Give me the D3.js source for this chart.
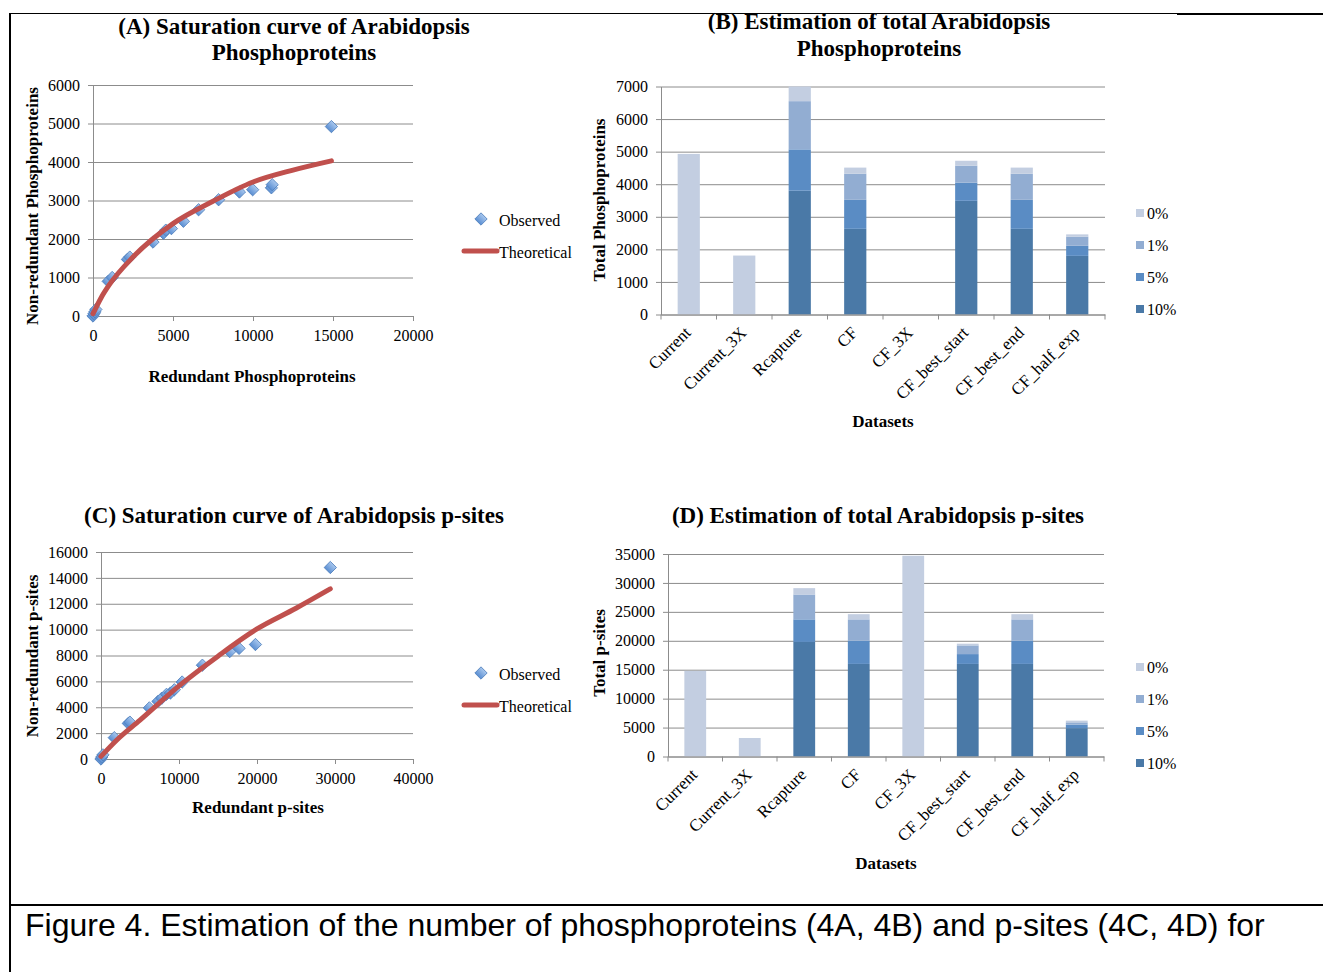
<!DOCTYPE html>
<html>
<head>
<meta charset="utf-8">
<script src="https://cdn.jsdelivr.net/npm/d3@7"></script>
<style>
body { margin: 0; background: #fff; }
svg text { font-family: "Liberation Serif", "Times New Roman", serif; fill: #000; }
.axis .domain, .axis .tick line { stroke: #8c8c8c; }
.axis text { font-size: 16px; }
.grid line { stroke: #8c8c8c; }
.grid .domain { display: none; }
.title { font-size: 23px; font-weight: bold; text-anchor: middle; }
.label { font-size: 17px; font-weight: bold; text-anchor: middle; }
.legend { font-size: 16px; }
.theory { fill: none; stroke: #c0504d; stroke-width: 5; stroke-linecap: round; }
.caption { font-family: "Liberation Sans", Arial, sans-serif; font-size: 30px; }
</style>
</head>
<body>
<div class="container"></div>
<script>
// (A) phosphoproteins saturation
var protObsX = [0, 60, 120, 180, 950, 1200, 2150, 2300, 3750, 4400, 4550, 4900, 5650, 6600, 7850, 9150, 9980, 11150, 11200, 14900];
var protObsY = [0, 60, 110, 170, 900, 1000, 1470, 1530, 1920, 2150, 2230, 2270, 2460, 2760, 3020, 3220, 3280, 3330, 3410, 4920];
var protTheoX = [0, 500, 1000, 2500, 5000, 7500, 10000, 12500, 14900];
var protTheoY = [60, 470, 800, 1530, 2400, 2980, 3480, 3790, 4030];

// (C) p-sites saturation
var siteObsX = [0, 100, 250, 1700, 3500, 3700, 6200, 7300, 7800, 8400, 8900, 9400, 10400, 13000, 16500, 17700, 19800, 29400];
var siteObsY = [0, 150, 320, 1650, 2750, 2850, 3950, 4450, 4700, 5000, 5100, 5350, 5950, 7250, 8300, 8550, 8850, 14800];
var siteTheoX = [0, 2000, 5000, 10000, 15000, 20000, 25000, 29400];
var siteTheoY = [200, 1450, 3000, 5650, 7950, 10050, 11650, 13150];

// (B) and (D) estimates, stacked by threshold
var datasets = ["Current", "Current_3X", "Rcapture", "CF", "CF_3X", "CF_best_start", "CF_best_end", "CF_half_exp"];
var thresholds = ["10%", "5%", "1%", "0%"];

var protSeg10 = [0, 0, 3800, 2630, 0, 3490, 2630, 1800];
var protSeg5  = [0, 0, 1270, 890, 0, 560, 890, 310];
var protSeg1  = [0, 0, 1480, 800, 0, 520, 800, 280];
var protSeg0  = [4930, 1810, 450, 190, 0, 150, 190, 70];

var siteSeg10 = [0, 0, 19800, 16000, 0, 16000, 16000, 4900];
var siteSeg5  = [0, 0, 3900, 4000, 0, 1700, 4000, 600];
var siteSeg1  = [0, 0, 4300, 3700, 0, 1500, 3700, 400];
var siteSeg0  = [14800, 3200, 1100, 900, 34700, 300, 900, 300];

var protTicksY = [0, 1000, 2000, 3000, 4000, 5000, 6000];
var protTicksX = [0, 5000, 10000, 15000, 20000];
var siteTicksY = [0, 2000, 4000, 6000, 8000, 10000, 12000, 14000, 16000];
var siteTicksX = [0, 10000, 20000, 30000, 40000];
var barProtTicks = [0, 1000, 2000, 3000, 4000, 5000, 6000, 7000];
var barSiteTicks = [0, 5000, 10000, 15000, 20000, 25000, 30000, 35000];

var segColors = {"10%": "#4a79a7", "5%": "#5a8cc4", "1%": "#92add2", "0%": "#c3cee1"};

var WIDTH = 1323, HEIGHT = 972;

var svg = d3.select('.container').append('svg')
	.attr('width', WIDTH)
	.attr('height', HEIGHT)
	.style('display', 'block');

svg.append('rect').attr('width', WIDTH).attr('height', HEIGHT).attr('fill', '#fff');

var translate = function(x, y){
	return "translate(" + x + "," + y + ")";
};

var cleanAxis = function(g){
	g.attr('font-family', null).attr('font-size', null);
};

var grad = svg.append('defs').append('linearGradient')
	.attr('id', 'diamondFill')
	.attr('x1', 0).attr('y1', 0).attr('x2', 0).attr('y2', 1);
grad.append('stop').attr('offset', '0%').attr('stop-color', '#a8c7ee');
grad.append('stop').attr('offset', '100%').attr('stop-color', '#5a8ed2');

var diamond = d3.symbol().type(d3.symbolSquare).size(76);

var drawScatter = function(cfg){
	var x = d3.scaleLinear().domain([0, cfg.xMax]).range([cfg.left, cfg.right]);
	var y = d3.scaleLinear().domain([0, cfg.yMax]).range([cfg.bottom, cfg.top]);

	svg.append('g').attr('class', 'grid')
		.attr('transform', translate(cfg.left, 0))
		.call(d3.axisLeft(y).tickValues(cfg.yTicks).tickSize(-(cfg.right - cfg.left)).tickFormat(''));

	svg.append('g').attr('class', 'axis')
		.attr('transform', translate(cfg.left, 0))
		.call(d3.axisLeft(y).tickValues(cfg.yTicks).tickSize(5).tickSizeOuter(0).tickPadding(8).tickFormat(d3.format('d')))
		.call(cleanAxis);

	svg.append('g').attr('class', 'axis')
		.attr('transform', translate(0, cfg.bottom))
		.call(d3.axisBottom(x).tickValues(cfg.xTicks).tickSize(5).tickSizeOuter(0).tickPadding(9).tickFormat(d3.format('d')))
		.call(cleanAxis);

	var obs = cfg.obsX.map(function(d, i){ return [d, cfg.obsY[i]]; });
	svg.append('g').selectAll('path').data(obs)
		.enter().append('path')
		.attr('d', diamond)
		.attr('transform', function(d){ return translate(x(d[0]), y(d[1])) + " rotate(45)"; })
		.attr('fill', 'url(#diamondFill)')
		.attr('stroke', '#4f7fbc')
		.attr('stroke-width', 0.8);

	var theo = cfg.theoX.map(function(d, i){ return [d, cfg.theoY[i]]; });
	var line = d3.line()
		.curve(d3.curveMonotoneX)
		.x(function(d){ return x(d[0]); })
		.y(function(d){ return y(d[1]); });
	svg.append('path').attr('class', 'theory').attr('d', line(theo));

	cfg.title.forEach(function(t, i){
		svg.append('text').attr('class', 'title')
			.attr('x', cfg.titleX).attr('y', cfg.titleY + i * 26).text(t);
	});
	svg.append('text').attr('class', 'label')
		.attr('x', cfg.xLabelX).attr('y', cfg.xLabelY).text(cfg.xLabel);
	svg.append('text').attr('class', 'label')
		.attr('transform', translate(cfg.yLabelX, cfg.yLabelY) + " rotate(-90)")
		.attr('dy', '0.35em').text(cfg.yLabel);

	// legend
	var lg = svg.append('g').attr('transform', translate(cfg.legX, cfg.legY));
	lg.append('path').attr('d', diamond)
		.attr('transform', translate(19, 0) + " rotate(45)")
		.attr('fill', 'url(#diamondFill)').attr('stroke', '#4f7fbc').attr('stroke-width', 0.8);
	lg.append('text').attr('class', 'legend').attr('x', 37).attr('y', 7).text('Observed');
	lg.append('line').attr('class', 'theory')
		.attr('x1', 2).attr('x2', 35).attr('y1', 32).attr('y2', 32);
	lg.append('text').attr('class', 'legend').attr('x', 37).attr('y', 39).text('Theoretical');
};

var drawBars = function(cfg){
	var x = d3.scaleBand().domain(datasets).range([cfg.left, cfg.right]).padding(0);
	var y = d3.scaleLinear().domain([0, cfg.yMax]).range([cfg.bottom, cfg.top]);
	var barW = x.step() / 2.5;

	svg.append('g').attr('class', 'grid')
		.attr('transform', translate(cfg.left, 0))
		.call(d3.axisLeft(y).tickValues(cfg.yTicks).tickSize(-(cfg.right - cfg.left)).tickFormat(''));

	svg.append('g').attr('class', 'axis')
		.attr('transform', translate(cfg.left, 0))
		.call(d3.axisLeft(y).tickValues(cfg.yTicks).tickSize(5).tickSizeOuter(0).tickPadding(8).tickFormat(d3.format('d')))
		.call(cleanAxis);

	var rows = datasets.map(function(name, i){
		var r = {name: name};
		thresholds.forEach(function(t){ r[t] = cfg.series[t][i]; });
		return r;
	});
	var stacked = d3.stack().keys(thresholds)(rows);

	svg.append('g').selectAll('g').data(stacked)
		.enter().append('g')
		.attr('fill', function(s){ return segColors[s.key]; })
		.selectAll('rect').data(function(s){ return s; })
		.enter().append('rect')
		.attr('x', function(d){ return x(d.data.name) + (x.step() - barW) / 2; })
		.attr('width', barW)
		.attr('y', function(d){ return y(d[1]); })
		.attr('height', function(d){ return y(d[0]) - y(d[1]); });

	var xAxis = svg.append('g').attr('class', 'axis')
		.attr('transform', translate(0, cfg.bottom))
		.call(d3.axisBottom(x).tickSize(0).tickSizeOuter(0))
		.call(cleanAxis);
	xAxis.selectAll('.tick text')
		.attr('x', 0).attr('y', 0).attr('dy', '0.35em')
		.attr('text-anchor', 'end')
		.attr('transform', translate(-1, 15) + " rotate(-45)")
		.style('font-size', '17px');
	xAxis.selectAll('.bound').data(d3.range(datasets.length + 1))
		.enter().append('line').attr('class', 'bound')
		.attr('x1', function(i){ return cfg.left + i * x.step(); })
		.attr('x2', function(i){ return cfg.left + i * x.step(); })
		.attr('y1', 0).attr('y2', 5)
		.attr('stroke', '#8c8c8c');

	cfg.title.forEach(function(t, i){
		svg.append('text').attr('class', 'title')
			.attr('x', cfg.titleX).attr('y', cfg.titleY + i * 27).text(t);
	});
	svg.append('text').attr('class', 'label')
		.attr('x', cfg.xLabelX).attr('y', cfg.xLabelY).text('Datasets');
	svg.append('text').attr('class', 'label')
		.attr('transform', translate(cfg.yLabelX, cfg.yLabelY) + " rotate(-90)")
		.attr('dy', '0.35em').text(cfg.yLabel);

	var legendKeys = thresholds.slice().reverse();
	var lg = svg.append('g').attr('transform', translate(cfg.legX, cfg.legY));
	legendKeys.forEach(function(k, i){
		lg.append('rect').attr('x', 0).attr('y', i * 32 - 4).attr('width', 8).attr('height', 8)
			.attr('fill', segColors[k]);
		lg.append('text').attr('class', 'legend').attr('x', 11).attr('y', i * 32 + 6).text(k);
	});
};

drawScatter({
	left: 93, right: 413, top: 85, bottom: 316,
	xMax: 20000, yMax: 6000, xTicks: protTicksX, yTicks: protTicksY,
	obsX: protObsX, obsY: protObsY, theoX: protTheoX, theoY: protTheoY,
	title: ["(A) Saturation curve of Arabidopsis", "Phosphoproteins"], titleX: 294, titleY: 34,
	xLabel: "Redundant Phosphoproteins", xLabelX: 252, xLabelY: 382,
	yLabel: "Non-redundant Phosphoproteins", yLabelX: 32, yLabelY: 206,
	legX: 462, legY: 219
});

drawScatter({
	left: 101, right: 413, top: 552, bottom: 759,
	xMax: 40000, yMax: 16000, xTicks: siteTicksX, yTicks: siteTicksY,
	obsX: siteObsX, obsY: siteObsY, theoX: siteTheoX, theoY: siteTheoY,
	title: ["(C) Saturation curve of Arabidopsis p-sites"], titleX: 294, titleY: 523,
	xLabel: "Redundant p-sites", xLabelX: 258, xLabelY: 813,
	yLabel: "Non-redundant p-sites", yLabelX: 32, yLabelY: 656,
	legX: 462, legY: 673
});

drawBars({
	left: 661, right: 1105, top: 86.5, bottom: 314.5,
	yMax: 7000, yTicks: barProtTicks,
	series: {"10%": protSeg10, "5%": protSeg5, "1%": protSeg1, "0%": protSeg0},
	title: ["(B) Estimation of total Arabidopsis", "Phosphoproteins"], titleX: 879, titleY: 29,
	xLabelX: 883, xLabelY: 427,
	yLabel: "Total Phosphoproteins", yLabelX: 599, yLabelY: 200,
	legX: 1136, legY: 213
});

drawBars({
	left: 668, right: 1104, top: 554, bottom: 756.5,
	yMax: 35000, yTicks: barSiteTicks,
	series: {"10%": siteSeg10, "5%": siteSeg5, "1%": siteSeg1, "0%": siteSeg0},
	title: ["(D) Estimation of total Arabidopsis p-sites"], titleX: 878, titleY: 523,
	xLabelX: 886, xLabelY: 869,
	yLabel: "Total p-sites", yLabelX: 599, yLabelY: 653,
	legX: 1136, legY: 667
});

// figure frame and caption
svg.append('line').attr('x1', 10).attr('x2', 1177).attr('y1', 13.5).attr('y2', 13.5)
	.attr('stroke', '#000').attr('stroke-width', 1);
svg.append('line').attr('x1', 1177).attr('x2', WIDTH).attr('y1', 14).attr('y2', 14)
	.attr('stroke', '#000').attr('stroke-width', 2);
svg.append('line').attr('x1', 10).attr('x2', 10).attr('y1', 13).attr('y2', HEIGHT)
	.attr('stroke', '#000').attr('stroke-width', 2);
svg.append('line').attr('x1', 10).attr('x2', WIDTH).attr('y1', 905).attr('y2', 905)
	.attr('stroke', '#000').attr('stroke-width', 2);

var cap = svg.append('text').attr('class', 'caption')
	.attr('x', 25).attr('y', 936)
	.text('Figure 4. Estimation of the number of phosphoproteins (4A, 4B) and p-sites (4C, 4D) for');
var capLen = cap.node().getComputedTextLength();
cap.style('font-size', (30 * 1240 / capLen) + 'px');
</script>
</body>
</html>
